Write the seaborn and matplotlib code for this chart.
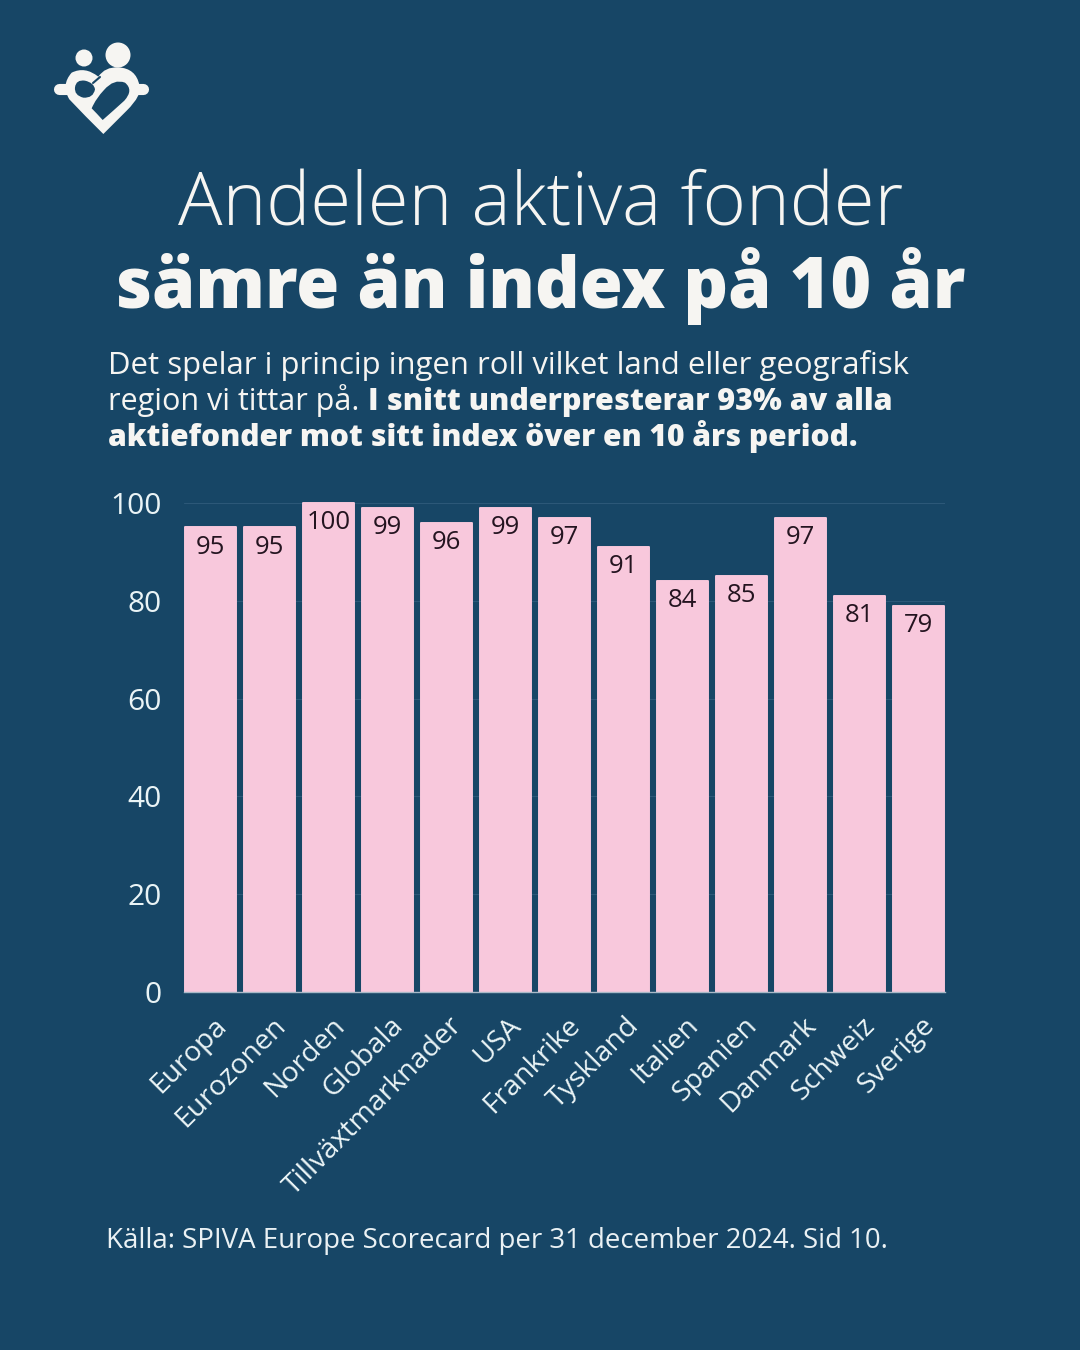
import matplotlib
matplotlib.use("Agg")
import matplotlib.pyplot as plt
import seaborn as sns
import pandas as pd
from matplotlib.path import Path
from matplotlib.patches import PathPatch, Circle
from matplotlib.transforms import ScaledTranslation

categories = ["Europa", "Eurozonen", "Norden", "Globala", "Tillväxtmarknader", "USA", "Frankrike",
              "Tyskland", "Italien", "Spanien", "Danmark", "Schweiz", "Sverige"]
values = [95, 95, 100, 99, 96, 99, 97, 91, 84, 85, 97, 81, 79]
y_ticks = [0, 20, 40, 60, 80, 100]

BG = "#174666"
PINK = "#F8C8DC"
WHITE = "#F6F5F2"
FONT = "Open Sans"

sns.set_theme(style="white")
plt.rcParams["font.family"] = [FONT, "DejaVu Sans"]

W, H = 1080, 1350
fig = plt.figure(figsize=(W / 100, H / 100), dpi=100, facecolor=BG)

# chart area in pixels
left, right, top, bottom = 184, 945, 503, 992
ax = fig.add_axes([left / W, 1 - bottom / H, (right - left) / W, (bottom - top) / H], facecolor=BG)

df = pd.DataFrame({"land": categories, "andel": values})
sns.barplot(data=df, x="land", y="andel", color=PINK, saturation=1, width=0.87, ax=ax, zorder=3)
for bar in ax.patches:
    bar.set_edgecolor(PINK)
    bar.set_linewidth(1.4)
    bar.set_joinstyle("round")
    bar.set_clip_on(False)
labels = ax.bar_label(ax.containers[0], padding=-18.8, fontsize=18.5, color="#241420")
for lab in labels:
    lab.set_va("baseline")

ax.set_xlim(-0.449, len(categories) - 1 + 0.449)
ax.set_ylim(0, 100)
ax.set_yticks(y_ticks)
ax.set_xlabel("")
ax.set_ylabel("")
ax.grid(axis="y", color="#2C5878", linewidth=0.8, zorder=0)
ax.set_axisbelow(True)
sns.despine(ax=ax, left=True, top=True, right=True)
ax.spines["bottom"].set_color("#A9B9C8")
ax.spines["bottom"].set_linewidth(1)
ax.spines["bottom"].set_zorder(5)
ax.tick_params(axis="y", length=0, pad=16, labelsize=21.5, labelcolor="#EAF4F6")
ax.tick_params(axis="x", length=0, pad=14, labelsize=20.5, labelcolor="#EAF4F6")
for lab in ax.get_xticklabels():
    lab.set_rotation(45)
    lab.set_ha("right")
    lab.set_va("top")
    lab.set_rotation_mode("anchor")
    lab.set_transform(lab.get_transform() + ScaledTranslation(0.02, 0, fig.dpi_scale_trans))

# overlay in pixel coordinates for header, footer and logo
ov = fig.add_axes([0, 0, 1, 1], facecolor="none")
ov.set_xlim(0, W)
ov.set_ylim(H, 0)
ov.axis("off")

ov.text(541, 226, "Andelen aktiva fonder", ha="center", va="baseline", fontsize=53.4, color=WHITE, fontweight=300)
ov.text(540, 308, "sämre än index på 10 år", ha="center", va="baseline", fontsize=50.1, color=WHITE, fontweight=800)

ov.text(108, 374, "Det spelar i princip ingen roll vilket land eller geografisk", fontsize=22.4, color=WHITE, fontweight=400)
ov.text(108, 410, "region vi tittar på.", fontsize=22, color=WHITE, fontweight=400)
ov.text(368, 410, "I snitt underpresterar 93% av alla", fontsize=21.9, color=WHITE, fontweight=800)
ov.text(108, 446, "aktiefonder mot sitt index över en 10 års period.", fontsize=21.65, color=WHITE, fontweight=800)

ov.text(106, 1248, "Källa: SPIVA Europe Scorecard per 31 december 2024. Sid 10.", fontsize=19.9, color="#EAF1F4", fontweight=400)

def logo_shape(pts, **kw):
    verts = [(30 + x / 3, 30 + y / 3) for x, y in pts]
    codes = [Path.MOVETO] + [Path.CURVE3] * (len(pts) - 1)
    ov.add_patch(PathPatch(Path(verts, codes), **kw))

ov.add_patch(Circle((84, 58), 8.5, color=WHITE, lw=0))
ov.add_patch(Circle((118, 55), 12.5, color=WHITE, lw=0))

# arms
ov.plot([59, 143], [89, 89], color=WHITE, lw=8, solid_capstyle="round", zorder=0.5)
# heart body
logo_shape([(220, 312), (165, 258), (118, 208), (92, 165), (125, 128), (165, 108), (205, 140),
            (225, 110), (265, 112), (318, 115), (328, 165), (338, 195), (290, 242), (255, 277), (220, 312)],
           facecolor=WHITE, edgecolor="none", zorder=1)
# holes
logo_shape([(185, 235), (198, 205), (222, 180), (252, 145), (285, 158), (312, 180), (283, 212),
            (250, 242), (218, 270), (200, 250), (185, 235)], facecolor=BG, edgecolor="none", zorder=2)
logo_shape([(135, 172), (138, 148), (165, 152), (192, 158), (195, 178), (190, 205), (160, 203),
            (132, 196), (135, 172)], facecolor=BG, edgecolor="none", zorder=2)
ov.plot([93, 100], [83, 77], color=BG, lw=1.5, zorder=2)

fig.savefig("out.png", dpi=100, facecolor=BG)
